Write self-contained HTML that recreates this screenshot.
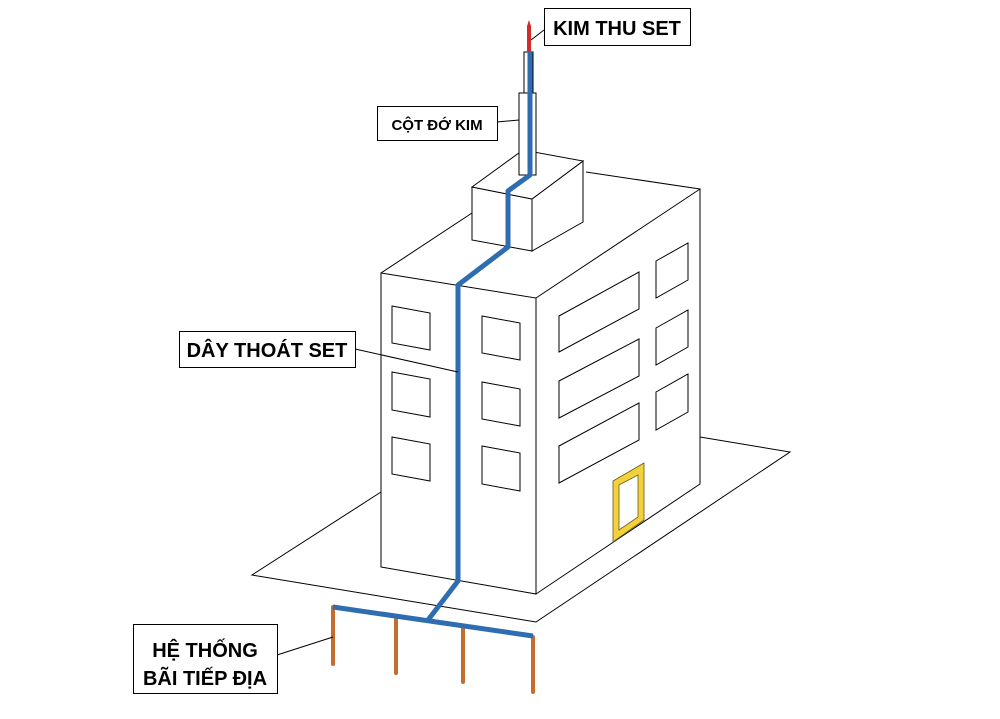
<!DOCTYPE html>
<html><head><meta charset="utf-8"><style>
html,body{margin:0;padding:0;background:#fff;}
svg{display:block;}
text{font-family:"Liberation Sans",Arial,sans-serif;font-weight:bold;fill:#000;}
</style></head><body>
<svg width="1000" height="719" viewBox="0 0 1000 719" xmlns="http://www.w3.org/2000/svg">
<g fill="none" stroke="#000" stroke-width="1">
<polyline points="381,492 252,575 536,622 790,452 700,437"/>
<polygon points="381,273 536,298 536,594 381,567" fill="#fff"/>
<polygon points="536,298 700,189 700,484 536,594" fill="#fff"/>
<polyline points="381,273 472,213"/>
<polyline points="586,172 700,189"/>
<polygon points="472,187 532,199 532,251 472,240" fill="#fff"/>
<polygon points="532,199 583,161 583,222 532,251" fill="#fff"/>
<polygon points="472,187 523,150 583,161 532,199" fill="#fff"/>
<rect x="519" y="93" width="17" height="82" fill="#fff"/>
<rect x="524" y="52" width="9" height="41" fill="#fff"/>
<polygon points="392,306 430,313 430,350 392,343"/>
<polygon points="392,372 430,379 430,417 392,410"/>
<polygon points="392,437 430,444 430,481 392,474"/>
<polygon points="482,316 520,323 520,360 482,353"/>
<polygon points="482,382 520,389 520,426 482,419"/>
<polygon points="482,446 520,453 520,491 482,484"/>
<polygon points="559,316 639,272 639,309 559,352"/>
<polygon points="559,381 639,339 639,376 559,418"/>
<polygon points="559,446 639,403 639,440 559,483"/>
<polygon points="656,261 688,243 688,280 656,298"/>
<polygon points="656,328 688,310 688,347 656,365"/>
<polygon points="656,392 688,374 688,412 656,430"/>
</g>
<path d="M613,481 L644,463 L644,520 L613,542 Z M619,485 L638,475 L638,517 L619,530 Z" fill="#f2d23c" fill-rule="evenodd" stroke="#6b5a10" stroke-width="0.8"/>
<path d="M527,52 L527,26 L529,20 L531,26 L531,52 Z" fill="#d42a2a"/>
<polyline points="530,52 530,175 508,191 508,247 458,285 458,581 428,620" fill="none" stroke="#2e6db0" stroke-width="5" stroke-linejoin="round"/>
<g stroke="#c46d2e" stroke-width="4" stroke-linecap="round">
<line x1="333" y1="607" x2="333" y2="664"/>
<line x1="396" y1="618" x2="396" y2="673"/>
<line x1="463" y1="628" x2="463" y2="682"/>
<line x1="533" y1="637" x2="533" y2="692"/>
</g>
<line x1="333" y1="607" x2="533" y2="636" stroke="#2e6db0" stroke-width="5"/>
<g stroke="#000" stroke-width="1">
<line x1="531" y1="40" x2="544" y2="30"/>
<line x1="497" y1="122" x2="519" y2="120"/>
<line x1="355" y1="349" x2="458" y2="372"/>
<line x1="277" y1="655" x2="333" y2="637"/>
</g>
<g fill="#fff" stroke="#000" stroke-width="1">
<rect x="544.5" y="8.5" width="146" height="37"/>
<rect x="377.5" y="106.5" width="120" height="34"/>
<rect x="179.5" y="331.5" width="176" height="36"/>
<rect x="133.5" y="624.5" width="144" height="69"/>
</g>
<text x="617" y="35" font-size="20" text-anchor="middle">KIM THU SET</text>
<text x="437" y="130" font-size="15" text-anchor="middle">CỘT ĐỚ KIM</text>
<text x="267" y="357" font-size="20" text-anchor="middle">DÂY THOÁT SET</text>
<text x="205" y="657" font-size="20" text-anchor="middle">HỆ THỐNG</text>
<text x="205" y="685" font-size="20" text-anchor="middle">BÃI TIẾP ĐỊA</text>
</svg>
</body></html>
